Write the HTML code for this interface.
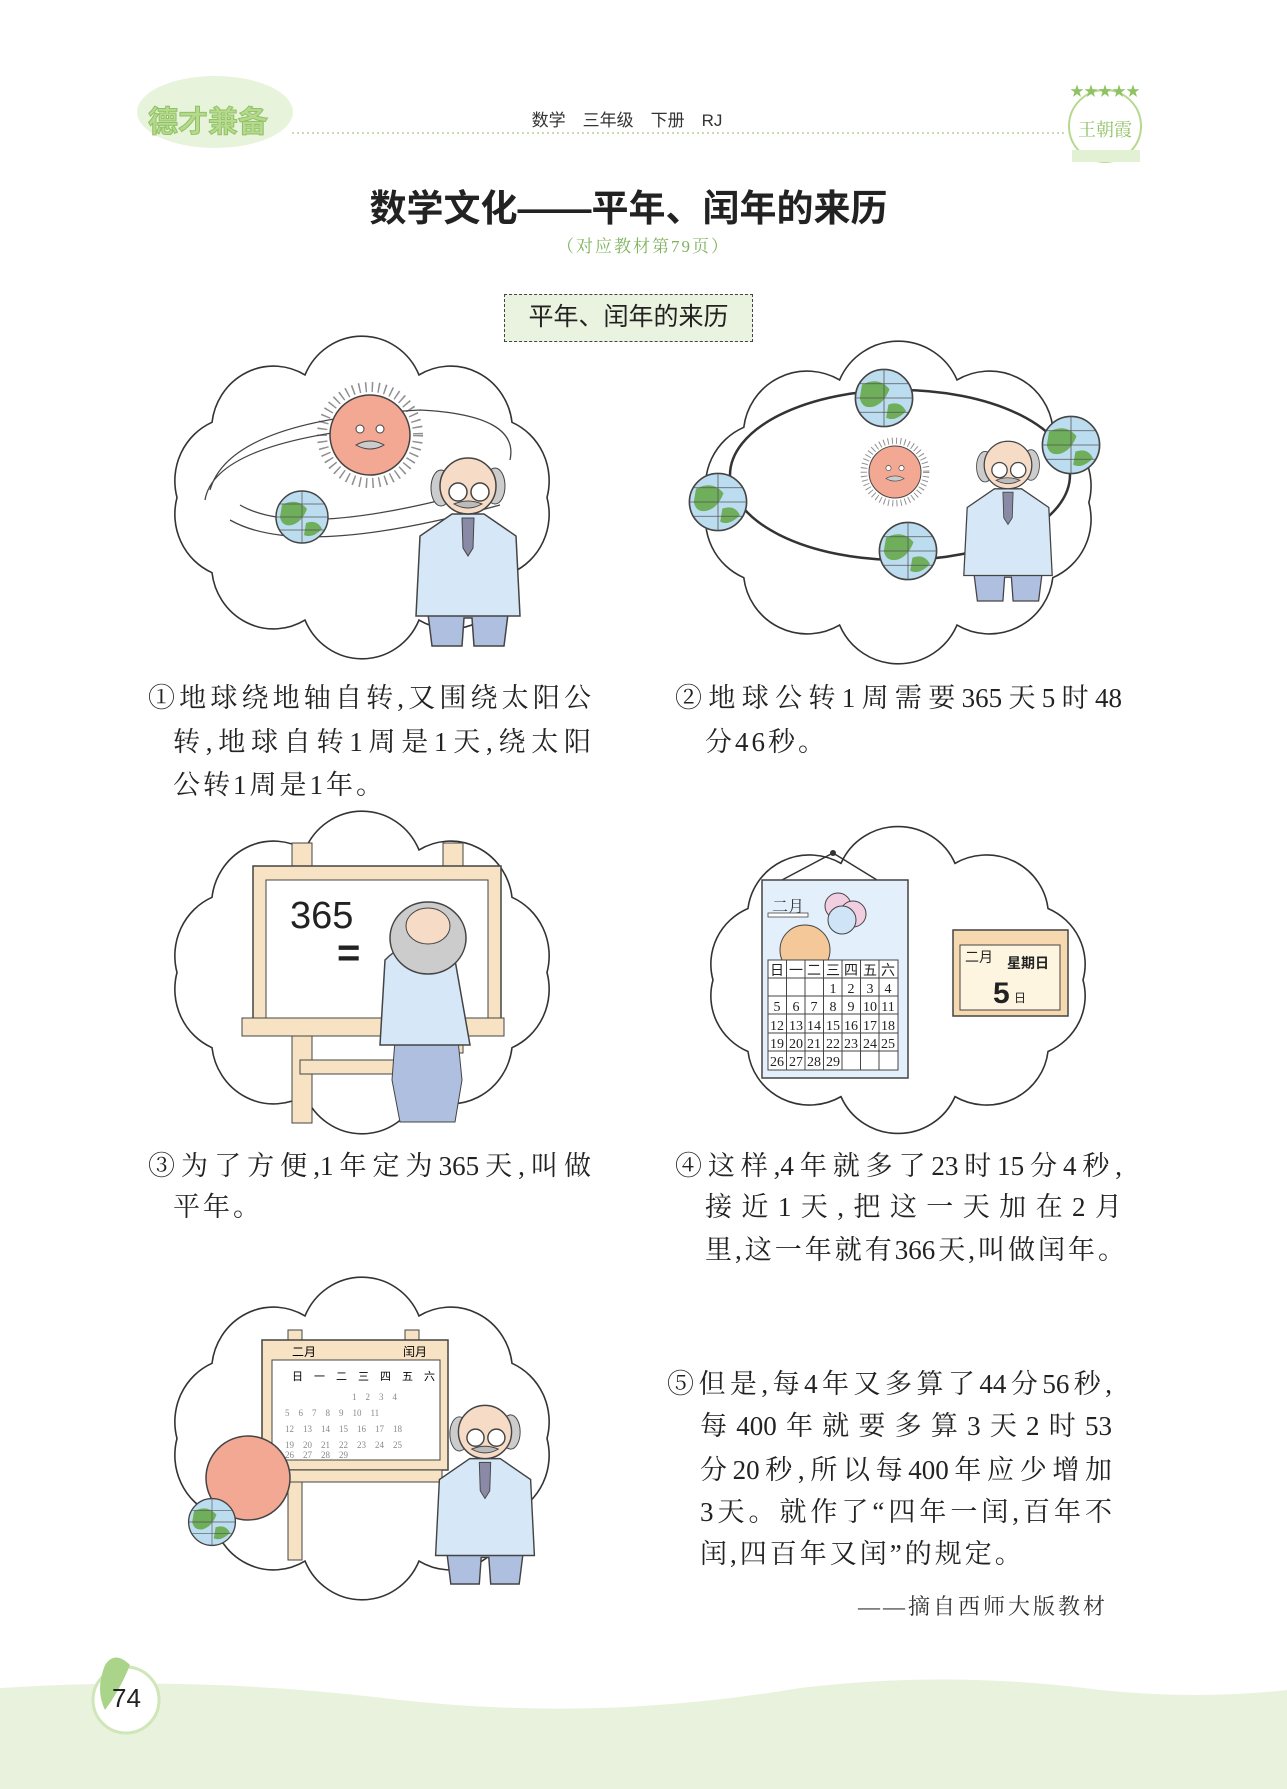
<!DOCTYPE html>
<html><head><meta charset="utf-8"><style>
body{margin:0;background:#fff}
#p{position:relative;width:1287px;height:1789px;overflow:hidden;background:#fff;font-family:"Liberation Serif","Noto Serif CJK SC",serif;color:#222}
.ab{position:absolute}
.l{position:absolute;font-size:27px;line-height:32px;white-space:nowrap}
.j{text-align:justify;text-align-last:justify;white-space:normal}
</style></head><body><div id="p">
<svg class="ab" style="left:0;top:0" width="1287" height="1789" viewBox="0 0 1287 1789">
<defs>
<path id="cl" d="M395,150 A62,62 0 0 1 360,223 A62,62 0 0 1 267,269 A62,62 0 0 1 153,269 A62,62 0 0 1 60,223 A62,62 0 0 1 25,150 A62,62 0 0 1 60,77 A62,62 0 0 1 153,31 A62,62 0 0 1 267,31 A62,62 0 0 1 360,77 A62,62 0 0 1 395,150 Z" fill="#fff" stroke="#333" stroke-width="1.6" vector-effect="non-scaling-stroke"/>
<g id="man">
<path d="M-40,128 L-36,160 L-6,160 L-4,132 L4,132 L6,160 L36,160 L40,128Z" fill="#aebfe0" stroke="#444" stroke-width="1.5"/>
<path d="M-16,28 L-48,50 L-52,130 L52,130 L48,50 L16,28 Z" fill="#d6e8f7" stroke="#444" stroke-width="1.5"/>
<path d="M-6,32 L6,32 L5,62 L0,70 L-5,62Z" fill="#8a8aa6" stroke="#444"/>
<ellipse cx="-27" cy="2" rx="10" ry="18" fill="#ccc" stroke="#444"/>
<ellipse cx="27" cy="0" rx="10" ry="18" fill="#ccc" stroke="#444"/>
<circle cx="0" cy="0" r="28" fill="#f6dcc6" stroke="#444" stroke-width="1.5"/>
<circle cx="-10" cy="6" r="9" fill="#fff" stroke="#444" stroke-width="1.5"/>
<circle cx="12" cy="6" r="9" fill="#fff" stroke="#444" stroke-width="1.5"/>
<path d="M-14,18 Q0,12 14,18 Q0,26 -14,18Z" fill="#bbb" stroke="#444"/>
</g>
<g id="sun"><circle r="48" fill="none" stroke="#444" stroke-width="10" stroke-dasharray="1.5 5" opacity=".6"/><circle r="40" fill="#f2a893" stroke="#444" stroke-width="1.5"/><path d="M-14,10 Q0,2 14,10 Q0,18 -14,10Z" fill="#ccc" stroke="#444"/><circle cx="-10" cy="-6" r="4" fill="#fff" stroke="#444"/><circle cx="10" cy="-6" r="4" fill="#fff" stroke="#444"/></g>
<g id="globe"><circle r="26" fill="#bcdcef" stroke="#444" stroke-width="1.5"/><path d="M-20,-12 Q-5,-20 5,-8 Q0,5 -10,8 Q-20,10 -22,0Z M4,6 Q15,2 20,12 Q10,22 2,18Z" fill="#6fae5a"/><path d="M-26,0 H26 M0,-26 V26 M-22,-13 H22 M-22,13 H22" stroke="#555" stroke-width=".7" fill="none"/></g>
</defs>
<!-- header -->
<ellipse cx="215" cy="112" rx="78" ry="36" fill="#e8f3dc"/>
<text x="148" y="132" font-family="Liberation Sans,Noto Sans CJK SC,sans-serif" font-size="30" font-weight="700" fill="#b6d98f" stroke="#8fc263" stroke-width="1">德才兼备</text>
<line x1="292" y1="133" x2="1067" y2="133" stroke="#b6cf9a" stroke-width="1.5" stroke-dasharray="2 3"/>
<circle cx="1105" cy="126" r="36" fill="#fff" stroke="#b6d98f" stroke-width="2"/>
<text x="1105" y="96" text-anchor="middle" font-size="14" fill="#8fc263">★★★★★</text>
<text x="1105" y="136" text-anchor="middle" font-size="18" fill="#8fc263" font-family="Noto Serif CJK SC,serif">王朝霞</text>
<rect x="1072" y="150" width="68" height="12" fill="#e2f0d4"/>
<text x="627" y="126" text-anchor="middle" font-family="Liberation Sans,Noto Sans CJK SC,sans-serif" font-size="17" fill="#333">数学　三年级　下册　RJ</text>
<!-- clouds -->
<use href="#cl" transform="translate(152,343) scale(1.0,1.03)"/>
<use href="#cl" transform="translate(682,348) scale(1.03,1.03)"/>
<use href="#cl" transform="translate(152,818) scale(1.0,1.03)"/>
<use href="#cl" transform="translate(688,833) scale(1.0,0.98)"/>
<use href="#cl" transform="translate(152,1284) scale(1.0,1.03)"/>
<!-- panel1 -->
<g fill="none" stroke="#444" stroke-width="1.3">
<path d="M210,490 Q230,420 420,410 Q520,415 510,460 M205,500 Q215,440 400,425 M230,520 Q300,560 500,505 M240,505 Q300,540 480,490"/>
</g>
<use href="#sun" transform="translate(370,435)"/>
<use href="#globe" transform="translate(302,517)"/>
<use href="#man" transform="translate(468,486)"/>
<!-- panel2 -->
<ellipse cx="900" cy="475" rx="170" ry="85" fill="none" stroke="#333" stroke-width="2.5"/>
<use href="#sun" transform="translate(895,472) scale(0.65)"/>
<use href="#globe" transform="translate(884,398) scale(1.1)"/>
<use href="#globe" transform="translate(1071,445) scale(1.1)"/>
<use href="#globe" transform="translate(718,502) scale(1.1)"/>
<use href="#globe" transform="translate(908,551) scale(1.1)"/>
<use href="#man" transform="translate(1008,465) scale(0.85)"/>
<!-- panel3 -->
<rect x="292" y="843" width="20" height="280" fill="#f7e3c4" stroke="#444"/>
<rect x="443" y="843" width="20" height="210" fill="#f7e3c4" stroke="#444"/>
<rect x="253" y="866" width="248" height="166" fill="#f7e3c4" stroke="#444" stroke-width="1.5"/>
<rect x="266" y="880" width="222" height="138" fill="#fff" stroke="#444"/>
<rect x="242" y="1018" width="262" height="18" fill="#f7e3c4" stroke="#444"/>
<rect x="300" y="1060" width="110" height="14" fill="#f7e3c4" stroke="#444"/>
<text x="290" y="928" font-family="Liberation Sans,sans-serif" font-size="38" fill="#222">365</text>
<text x="337" y="966" font-family="Liberation Sans,sans-serif" font-size="40" font-weight="700" fill="#222">=</text>
<path d="M395,1040 L392,1080 L400,1122 L455,1122 L462,1080 L458,1040Z" fill="#aebfe0" stroke="#444"/>
<path d="M385,960 Q420,925 455,960 L470,1045 L380,1045Z" fill="#d6e8f7" stroke="#444" stroke-width="1.5"/>
<ellipse cx="428" cy="938" rx="38" ry="36" fill="#ccc" stroke="#444" stroke-width="1.5"/>
<ellipse cx="428" cy="926" rx="22" ry="18" fill="#f6dcc6" stroke="#444"/>
<!-- panel4 -->
<path d="M782,880 L833,853 L877,880" fill="none" stroke="#333" stroke-width="1.5"/><circle cx="833" cy="853" r="3" fill="#333"/>
<rect x="762" y="880" width="146" height="198" fill="#e3f0fb" stroke="#444" stroke-width="1.5"/>
<text x="772" y="912" font-size="16" fill="#333">二月</text><rect x="768" y="913" width="40" height="4" fill="#fff" stroke="#444" stroke-width=".8"/>
<circle cx="838" cy="906" r="13" fill="#f2cfe0" stroke="#444"/><circle cx="853" cy="914" r="13" fill="#f2cfe0" stroke="#444"/><circle cx="842" cy="920" r="14" fill="#cfe4f6" stroke="#444"/>
<circle cx="805" cy="950" r="25" fill="#f5c89a" stroke="#444"/>
<rect x="768" y="960" width="130" height="110" fill="#fff" stroke="#444"/>
<g stroke="#444" stroke-width="1"><line x1="786.5" y1="960" x2="786.5" y2="1070"/><line x1="805" y1="960" x2="805" y2="1070"/><line x1="823.5" y1="960" x2="823.5" y2="1070"/><line x1="842" y1="960" x2="842" y2="1070"/><line x1="860.5" y1="960" x2="860.5" y2="1070"/><line x1="879" y1="960" x2="879" y2="1070"/>
<line x1="768" y1="978" x2="898" y2="978"/><line x1="768" y1="996" x2="898" y2="996"/><line x1="768" y1="1014" x2="898" y2="1014"/><line x1="768" y1="1033" x2="898" y2="1033"/><line x1="768" y1="1051" x2="898" y2="1051"/></g>
<g font-size="14" fill="#222" text-anchor="middle" font-family="Liberation Serif,Noto Sans CJK SC,serif">
<text x="777" y="975">日</text><text x="796" y="975">一</text><text x="814" y="975">二</text><text x="833" y="975">三</text><text x="851" y="975">四</text><text x="870" y="975">五</text><text x="888" y="975">六</text>
<text x="833" y="993">1</text><text x="851" y="993">2</text><text x="870" y="993">3</text><text x="888" y="993">4</text>
<text x="777" y="1011">5</text><text x="796" y="1011">6</text><text x="814" y="1011">7</text><text x="833" y="1011">8</text><text x="851" y="1011">9</text><text x="870" y="1011">10</text><text x="888" y="1011">11</text>
<text x="777" y="1030">12</text><text x="796" y="1030">13</text><text x="814" y="1030">14</text><text x="833" y="1030">15</text><text x="851" y="1030">16</text><text x="870" y="1030">17</text><text x="888" y="1030">18</text>
<text x="777" y="1048">19</text><text x="796" y="1048">20</text><text x="814" y="1048">21</text><text x="833" y="1048">22</text><text x="851" y="1048">23</text><text x="870" y="1048">24</text><text x="888" y="1048">25</text>
<text x="777" y="1066">26</text><text x="796" y="1066">27</text><text x="814" y="1066">28</text><text x="833" y="1066">29</text></g>
<rect x="953" y="930" width="115" height="86" fill="#f7d9b0" stroke="#444" stroke-width="1.5"/>
<rect x="960" y="945" width="100" height="65" fill="#fdf5e0" stroke="#444"/>
<text x="965" y="962" font-size="14" fill="#222" font-family="Noto Sans CJK SC,sans-serif">二月</text>
<text x="1007" y="968" font-size="14" font-weight="700" fill="#222" font-family="Noto Sans CJK SC,sans-serif">星期日</text>
<text x="993" y="1003" font-size="30" font-weight="700" fill="#222" font-family="Liberation Sans,sans-serif">5</text><text x="1014" y="1002" font-size="12" fill="#222" font-family="Noto Sans CJK SC,sans-serif">日</text>
<!-- panel5 -->
<rect x="288" y="1330" width="14" height="230" fill="#f7e3c4" stroke="#444"/>
<rect x="405" y="1330" width="14" height="150" fill="#f7e3c4" stroke="#444"/>
<rect x="262" y="1340" width="186" height="130" fill="#f7e3c4" stroke="#444" stroke-width="1.5"/>
<rect x="272" y="1360" width="168" height="100" fill="#fff" stroke="#444"/>
<rect x="282" y="1470" width="160" height="12" fill="#f7e3c4" stroke="#444"/>
<text x="292" y="1356" font-size="12" font-family="Noto Sans CJK SC,sans-serif">二月</text><text x="403" y="1356" font-size="12" font-family="Noto Sans CJK SC,sans-serif">闰月</text>
<text x="292" y="1380" font-size="11" font-family="Noto Sans CJK SC,sans-serif">日　一　二　三　四　五　六</text>
<g fill="#888" font-size="9"><text x="280" y="1400">　　　　　　　　1　2　3　4</text><text x="285" y="1416">5　6　7　8　9　10　11</text><text x="285" y="1432">12　13　14　15　16　17　18</text><text x="285" y="1448">19　20　21　22　23　24　25</text><text x="285" y="1458">26　27　28　29</text></g>
<circle cx="248" cy="1478" r="42" fill="#f2a893" stroke="#444" stroke-width="1.5"/>
<use href="#globe" transform="translate(212,1522) scale(0.9)"/>
<use href="#man" transform="translate(485,1432) scale(0.95)"/>
<!-- footer -->
<path d="M0,1688 Q200,1675 400,1700 Q600,1722 800,1688 Q950,1670 1100,1690 Q1200,1700 1287,1690 L1287,1789 L0,1789Z" fill="#e8f2dc"/>
<circle cx="126" cy="1700" r="33" fill="#fff" stroke="#cfe6b8" stroke-width="3"/>
<path d="M105,1665 Q115,1650 130,1665 Q120,1690 105,1710 Q95,1690 105,1665Z" fill="#a9d48a"/>
</svg>
<div class="ab" style="left:0;width:1257px;top:187px;text-align:center;font-family:'Liberation Sans','Noto Sans CJK SC',sans-serif;font-weight:700;font-size:37px;line-height:44px;color:#222">数学文化——平年、闰年的来历</div>
<div class="ab" style="left:0;width:1287px;top:232px;text-align:center;font-size:17px;color:#7fb35c;letter-spacing:2px">（对应教材第79页）</div>
<div class="ab" style="left:504px;top:294px;width:249px;height:48px;box-sizing:border-box;border:1.5px dashed #444;background:#eaf3df;text-align:center;font-family:'Liberation Sans','Noto Sans CJK SC',sans-serif;font-size:25px;line-height:44px;color:#222">平年、闰年的来历</div>

<div class="l j" style="left:148px;top:682px;width:443px">①地球绕地轴自转,又围绕太阳公</div>
<div class="l j" style="left:173px;top:726px;width:418px">转,地球自转1周是1天,绕太阳</div>
<div class="l" style="left:173px;top:769px;letter-spacing:3px">公转1周是1年。</div>

<div class="l j" style="left:675px;top:682px;width:447px">②地球公转1周需要365天5时48</div>
<div class="l" style="left:705px;top:726px;letter-spacing:3px">分46秒。</div>

<div class="l j" style="left:148px;top:1150px;width:443px">③为了方便,1年定为365天,叫做</div>
<div class="l" style="left:173px;top:1191px;letter-spacing:3px">平年。</div>

<div class="l j" style="left:675px;top:1150px;width:447px">④这样,4年就多了23时15分4秒,</div>
<div class="l j" style="left:705px;top:1191px;width:417px">接近1天,把这一天加在2月</div>
<div class="l j" style="left:705px;top:1234px;width:420px">里,这一年就有366天,叫做闰年。</div>

<div class="l j" style="left:667px;top:1368px;width:445px">⑤但是,每4年又多算了44分56秒,</div>
<div class="l j" style="left:700px;top:1410px;width:412px">每400年就要多算3天2时53</div>
<div class="l j" style="left:700px;top:1454px;width:412px">分20秒,所以每400年应少增加</div>
<div class="l j" style="left:700px;top:1496px;width:412px">3天。就作了“四年一闰,百年不</div>
<div class="l" style="left:700px;top:1538px;letter-spacing:3px">闰,四百年又闰”的规定。</div>
<div class="l" style="left:850px;width:258px;top:1591px;font-size:22px;text-align:right;letter-spacing:3px;color:#333">——摘自西师大版教材</div>
<div class="ab" style="left:112px;top:1683px;font-family:'Liberation Sans',sans-serif;font-size:26px;color:#222">74</div>
</div></body></html>
